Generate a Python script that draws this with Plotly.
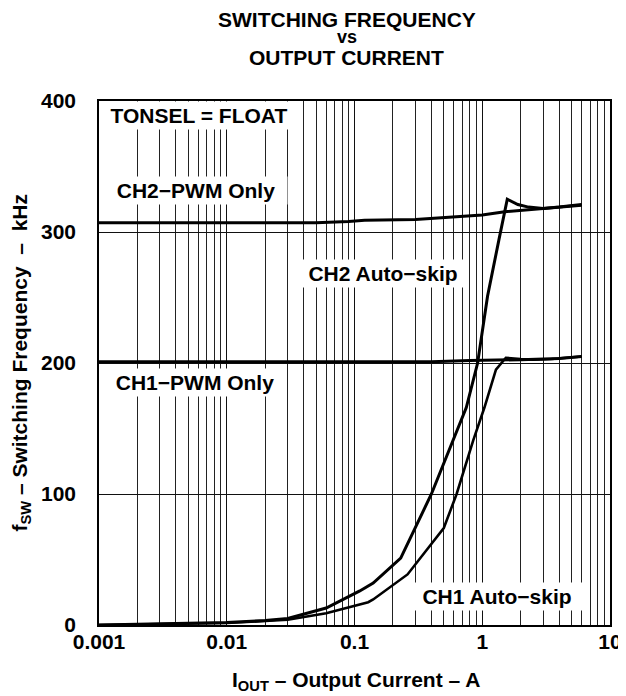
import plotly.graph_objects as go

# ---- data ----
iout_ch2_pwm = [0.001, 0.01, 0.05, 0.09, 0.12, 0.3, 0.5, 1.0, 1.5, 2.5, 4.0, 6.0]
f_ch2_pwm = [307, 307, 307, 308, 309, 309.5, 311, 313, 315.5, 317.5, 319, 320.5]

iout_ch1_pwm = [0.001, 0.1, 0.4, 0.8, 2.0, 4.0, 6.0]
f_ch1_pwm = [201, 201, 201, 202, 202.5, 203.5, 205]

iout_ch2_skip = [0.001, 0.002, 0.005, 0.01, 0.02, 0.03, 0.06, 0.11, 0.14, 0.23, 0.4,
                 0.53, 0.75, 0.92, 1.1, 1.35, 1.57, 1.9, 2.3, 3.0, 4.0, 6.0]
f_ch2_skip = [0, 0.5, 1, 2, 3.5, 5, 13, 26, 32, 51, 100,
              129, 166, 200, 251, 294, 325, 321, 319, 318, 319, 321]

iout_ch1_skip = [0.001, 0.002, 0.005, 0.01, 0.02, 0.03, 0.06, 0.128, 0.14, 0.26, 0.5,
                 0.63, 0.85, 1.04, 1.28, 1.53, 2.0, 2.5, 3.5, 6.0]
f_ch1_skip = [0, 0.5, 1, 1.5, 3, 4, 9, 17.4, 19.5, 38.6, 74,
              100, 141, 166, 195, 204, 203, 202.5, 203, 205]

x_tickvals = [0.001, 0.01, 0.1, 1, 10]
x_ticktext = ["0.001", "0.01", "0.1", "1", "10"]
y_tickvals = [0, 100, 200, 300, 400]

labels = [
    # text, log10(x), y, box width
    ("TONSEL = FLOAT", -2.218, 389.0, 190),
    ("CH2\u2212PWM Only", -2.237, 331.6, 178),
    ("CH1\u2212PWM Only", -2.248, 185.0, 178),
    ("CH2 Auto\u2212skip", -0.780, 268.5, 166),
    ("CH1 Auto\u2212skip", 0.118, 21.5, 168),
]

# text, y pixel of box middle, font size
title_lines = [("SWITCHING FREQUENCY", 12.0, 21), ("vs", 29.0, 18), ("OUTPUT CURRENT", 50.0, 21)]

minor_x = [m * 10.0 ** e for e in range(-3, 1) for m in range(2, 10)]

FONT = "Liberation Sans, Arial, Helvetica, sans-serif"
PLOT_TOP, PLOT_BOT = 93.5, 617.5
PLOT_H = PLOT_BOT - PLOT_TOP
PLOT_L, PLOT_W = 91.0, 521.5


def py(px):
    return (PLOT_BOT - px) / PLOT_H


def pxx(px):
    return (px - PLOT_L) / PLOT_W


fig = go.Figure()
for xs, ys, w in [(iout_ch2_pwm, f_ch2_pwm, 3),
                  (iout_ch1_pwm, f_ch1_pwm, 3),
                  (iout_ch2_skip, f_ch2_skip, 3),
                  (iout_ch1_skip, f_ch1_skip, 2.6)]:
    fig.add_trace(go.Scatter(x=xs, y=ys, mode="lines",
                             line=dict(color="black", width=w),
                             showlegend=False, hoverinfo="skip"))

for text, lx, ly, w in labels:
    fig.add_annotation(x=lx, y=ly, xref="x", yref="y", text=text,
                       showarrow=False, bgcolor="white", width=w,
                       borderpad=2, align="center",
                       font=dict(family=FONT, size=21, color="black", weight="bold"))

# title (three separate lines for tight spacing)
for text, ypx, fs in title_lines:
    fig.add_annotation(xref="paper", yref="paper", x=pxx(344), y=py(ypx),
                       xanchor="center", yanchor="middle", showarrow=False, text=text,
                       font=dict(family=FONT, size=fs, color="black", weight="bold"))

# axis titles
fig.add_annotation(xref="paper", yref="paper", x=pxx(353), y=py(673),
                   xanchor="center", yanchor="middle", showarrow=False,
                   text="I<sub>OUT</sub> \u2013 Output Current \u2013 A",
                   font=dict(family=FONT, size=21, color="black", weight="bold"))
fig.add_annotation(xref="paper", yref="paper", x=pxx(11), y=0.5,
                   xanchor="center", yanchor="middle", showarrow=False, textangle=-90,
                   text="f<sub>SW</sub> \u2013 Switching Frequency  \u2013  kHz",
                   font=dict(family=FONT, size=21, color="black", weight="bold"))

fig.update_layout(
    width=626, height=696,
    margin=dict(l=91, r=14, t=93, b=79),
    paper_bgcolor="white", plot_bgcolor="white",
    font=dict(family=FONT, size=21, color="black", weight="bold"),
    xaxis=dict(type="log", range=[-3, 1], tickvals=x_tickvals, ticktext=x_ticktext,
               showgrid=True, gridcolor="#111", gridwidth=1,
               minor=dict(tickvals=minor_x, showgrid=True, gridcolor="#222", gridwidth=1, ticks=""),
               showline=True, linecolor="black", linewidth=1.5, mirror=True,
               ticks="", zeroline=False, tickfont=dict(size=21), ticklabelstandoff=-3),
    yaxis=dict(range=[0, 400], tickvals=y_tickvals,
               showgrid=True, gridcolor="#111", gridwidth=1,
               showline=True, linecolor="black", linewidth=1.5, mirror=True,
               ticks="", zeroline=False, tickfont=dict(size=21), ticklabelstandoff=17),
)

fig.write_html("out.html")
